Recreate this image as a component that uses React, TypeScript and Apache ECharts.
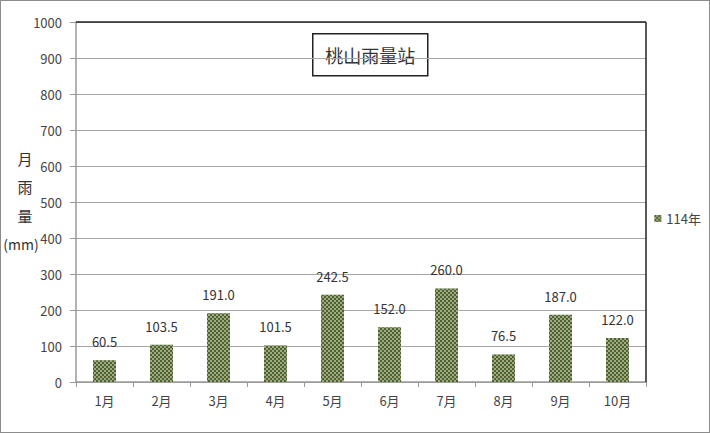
import React, { useEffect, useRef } from "react";
import * as echarts from "echarts";

const months = ["1月", "2月", "3月", "4月", "5月", "6月", "7月", "8月", "9月", "10月"];
const rainfall = [60.5, 103.5, 191.0, 101.5, 242.5, 152.0, 260.0, 76.5, 187.0, 122.0];
const seriesName = "114年";
const chartTitle = "桃山雨量站";
const yTitleChars = ["月", "雨", "量", "(mm)"];

const FONT = '"Noto Sans CJK TC", "Noto Sans", sans-serif';

export default function App() {
  const ref = useRef<HTMLDivElement>(null);
  useEffect(() => {
    document.body.style.margin = "0";
    const chart = echarts.init(ref.current!, null, { renderer: "svg" });
    const decal = {
      symbol: "rect",
      symbolSize: 1,
      color: "rgba(255,255,255,0.45)",
      dashArrayX: [[2, 2], [0, 2, 2, 0]],
      dashArrayY: [2, 0],
      rotation: 0,
    };
    chart.setOption({
      animation: false,
      textStyle: { fontFamily: FONT },
      grid: { left: 76, right: 64, top: 22, bottom: 51, containLabel: false },
      legend: {
        right: 4,
        top: 207,
        orient: "vertical",
        itemWidth: 7,
        itemHeight: 7,
        itemGap: 4,
        textStyle: { fontSize: 13, color: "#444", fontFamily: FONT },
        data: [{ name: seriesName, icon: "rect" }],
      },
      xAxis: {
        type: "category",
        data: months,
        axisLine: { lineStyle: { color: "#999", width: 1.5 } },
        axisTick: { show: true, length: 5, lineStyle: { color: "#999" } },
        axisLabel: { fontSize: 13, color: "#444", margin: 12, fontFamily: FONT },
      },
      yAxis: {
        type: "value",
        min: 0,
        max: 1000,
        interval: 100,
        axisLine: { show: true, lineStyle: { color: "#999", width: 1.5 } },
        axisTick: { show: true, length: 6, lineStyle: { color: "#999" } },
        axisLabel: {
          fontSize: 13,
          color: "#444",
          margin: 14,
          fontFamily: FONT,
          formatter: (v: number) => String(v),
        },
        splitLine: { lineStyle: { color: "#a6a6a6", width: 1.2 } },
      },
      series: [
        {
          name: seriesName,
          type: "bar",
          data: rainfall,
          barWidth: 23,
          itemStyle: { color: "#4f6228", decal },
          label: {
            show: true,
            position: "top",
            distance: 12,
            fontSize: 13,
            color: "#333",
            fontFamily: FONT,
            formatter: (p: any) => Number(p.value).toFixed(1),
          },
        },
      ],
      aria: { enabled: false, decal: { show: true } },
      graphic: [
        {
          type: "line",
          shape: { x1: 76, y1: 22, x2: 646, y2: 22 },
          style: { stroke: "#222", lineWidth: 1.5 },
          z: 10,
        },
        {
          type: "line",
          shape: { x1: 646, y1: 22, x2: 646, y2: 382 },
          style: { stroke: "#222", lineWidth: 1.5 },
          z: 10,
        },
        {
          type: "group",
          left: 312,
          top: 33,
          z: 20,
          children: [
            {
              type: "rect",
              shape: { x: 0, y: 0, width: 115, height: 42 },
              style: { fill: "#fff", stroke: "#222", lineWidth: 1.5 },
            },
            {
              type: "text",
              x: 57.5,
              y: 21,
              style: {
                text: chartTitle,
                fontSize: 18,
                fill: "#333",
                fontFamily: FONT,
                align: "center",
                verticalAlign: "middle",
              },
            },
          ],
        },
        ...yTitleChars.map((c, i) => ({
          type: "text",
          x: i === 3 ? 21 : 25,
          y: 158 + i * 28.5,
          z: 20,
          style: {
            text: c,
            fontSize: i === 3 ? 14 : 15,
            fill: "#333",
            fontFamily: FONT,
            align: "center",
            verticalAlign: "middle",
          },
        })),
      ],
    });
    return () => chart.dispose();
  }, []);
  return (
    <div style={{ position: "relative", width: 710, height: 433 }}>
      <div ref={ref} style={{ width: 710, height: 433 }} />
      <div
        style={{
          position: "absolute",
          left: 0,
          top: 0,
          width: 710,
          height: 433,
          boxSizing: "border-box",
          border: "1.5px solid #8c8c8c",
          pointerEvents: "none",
        }}
      />
    </div>
  );
}
